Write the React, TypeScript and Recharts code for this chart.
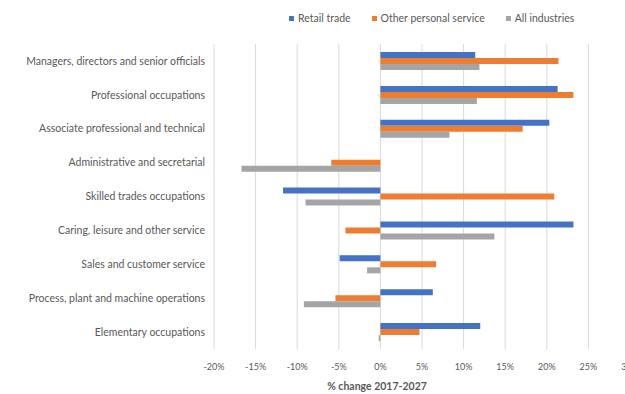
import React from 'react';
import { BarChart, Bar, XAxis, YAxis, CartesianGrid, Legend, Label } from 'recharts';

const categories = [
  'Managers, directors and senior officials',
  'Professional occupations',
  'Associate professional and technical',
  'Administrative and secretarial',
  'Skilled trades occupations',
  'Caring, leisure and other service',
  'Sales and customer service',
  'Process, plant and machine operations',
  'Elementary occupations',
];

const retailTrade = [11.4, 21.3, 20.3, 0, -11.7, 23.2, -4.9, 6.3, 12.0];
const otherPersonalService = [21.4, 23.2, 17.1, -5.9, 20.9, -4.2, 6.7, -5.4, 4.7];
const allIndustries = [11.9, 11.6, 8.3, -16.7, -9.0, 13.7, -1.6, -9.2, -0.2];

const xTicks = [-20, -15, -10, -5, 0, 5, 10, 15, 20, 25, 30];

const seriesNames = ['Retail trade', 'Other personal service', 'All industries'];
const seriesColors = ['#4472C4', '#ED7D31', '#A5A5A5'];

const data = categories.map((name, i) => ({
  name,
  retail: retailTrade[i],
  other: otherPersonalService[i],
  all: allIndustries[i],
}));

const textColor = '#595959';
const fontFamily = 'Lato, "Liberation Sans", sans-serif';

const LegendContent = () => (
  <div
    style={{
      display: 'flex',
      justifyContent: 'flex-start',
      paddingLeft: 289,
      fontSize: 10.5,
      lineHeight: '12px',
      color: textColor,
      fontFamily,
    }}
  >
    {seriesNames.map((n, i) => (
      <div key={n} style={{ display: 'flex', alignItems: 'center', marginRight: 21 }}>
        <span
          style={{
            display: 'inline-block',
            width: 5,
            height: 5,
            background: seriesColors[i],
            marginRight: 4,
          }}
        />
        <span>{n}</span>
      </div>
    ))}
  </div>
);

// Category label drawn on a single line, right-aligned against the plot
const CategoryTick = (props: any) => {
  const { x, y, payload } = props;
  return (
    <text
      x={x}
      y={y}
      dy="0.35em"
      textAnchor="end"
      fontSize={10.5}
      fill={textColor}
      fontFamily={fontFamily}
    >
      {payload.value}
    </text>
  );
};

export default function App() {
  return (
    <div style={{ position: 'absolute', left: 0, top: 0, fontFamily }}>
      <BarChart
        width={640}
        height={394}
        data={data}
        layout="vertical"
        margin={{ top: 32, right: 10, bottom: 20, left: 0 }}
        barGap={0}
        barSize={6}
      >
        <CartesianGrid horizontal={false} stroke="#d9d9d9" />
        <XAxis
          type="number"
          domain={[-20, 30]}
          ticks={xTicks}
          tickFormatter={(v: number) => `${v}%`}
          axisLine={false}
          tickLine={false}
          tickSize={0}
          tickMargin={15}
          height={25}
          tick={{ fontSize: 9, fill: textColor, fontFamily }}
          interval={0}
        >
          <Label
            value="% change 2017-2027"
            position="bottom"
            dx={-45}
            offset={9}
            style={{ fontSize: 10.5, fill: textColor, fontFamily, fontWeight: 'bold' }}
          />
        </XAxis>
        <YAxis
          type="category"
          dataKey="name"
          width={214}
          axisLine={false}
          tickLine={false}
          tickSize={0}
          tickMargin={9}
          interval={0}
          tick={<CategoryTick />}
        />
        <Legend verticalAlign="top" align="left" content={<LegendContent />} wrapperStyle={{ top: 12, left: 0 }} />
        <Bar dataKey="retail" name={seriesNames[0]} fill={seriesColors[0]} isAnimationActive={false} />
        <Bar dataKey="other" name={seriesNames[1]} fill={seriesColors[1]} isAnimationActive={false} />
        <Bar dataKey="all" name={seriesNames[2]} fill={seriesColors[2]} isAnimationActive={false} />
      </BarChart>
    </div>
  );
}
